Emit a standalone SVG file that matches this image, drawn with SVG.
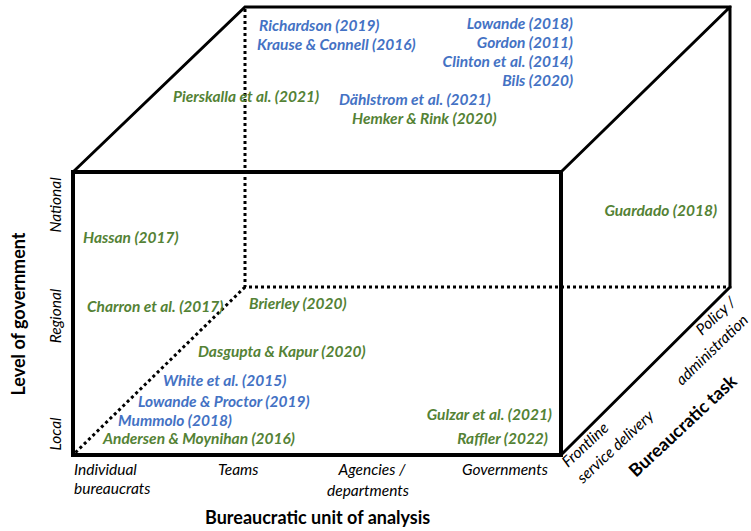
<svg xmlns="http://www.w3.org/2000/svg" width="751" height="531" viewBox="0 0 751 531">
<style>
.solid{stroke:#000;stroke-width:3;fill:none;stroke-linecap:square}
.front{stroke:#000;stroke-width:4;fill:none}
.dot{stroke:#000;stroke-width:3;fill:none;stroke-dasharray:3 3}
.ref{font-family:Lato,"Open Sans","Liberation Sans",sans-serif;font-size:15.5px;font-weight:bold;font-style:italic}
.b{fill:#4472C4}
.g{fill:#548235}
.ax{font-family:Lato,"Open Sans","Liberation Sans",sans-serif;font-size:15.5px;font-style:italic;fill:#000}
.title{font-family:Lato,"Open Sans","Liberation Sans",sans-serif;font-size:18px;font-weight:bold;fill:#000}
</style>
<rect width="751" height="531" fill="#fff"/>
<g id="connectors">
<path class="dot" d="M245,9 V287 H730 M245,287 L75,453"/>
<path class="solid" d="M73,172 L245,7 H730 V287 M561,172 L730,7 M561,455 L730,287"/>
<rect class="front" x="73" y="172" width="488" height="283"/>
</g>
<g id="refs-top">
<text class="ref b" x="259" y="31">Richardson (2019)</text>
<text class="ref b" x="257" y="50">Krause &amp; Connell (2016)</text>
<text class="ref b" x="573" y="29" text-anchor="end">Lowande (2018)</text>
<text class="ref b" x="573" y="48" text-anchor="end">Gordon (2011)</text>
<text class="ref b" x="573" y="67" text-anchor="end">Clinton et al. (2014)</text>
<text class="ref b" x="573" y="86" text-anchor="end">Bils (2020)</text>
<text class="ref g" x="173" y="102">Pierskalla et al. (2021)</text>
<text class="ref b" x="339" y="105">Dählstrom et al. (2021)</text>
<text class="ref g" x="352" y="124">Hemker &amp; Rink (2020)</text>
</g>
<g id="refs-front">
<text class="ref g" x="83" y="243">Hassan (2017)</text>
<text class="ref g" x="87" y="312">Charron et al. (2017)</text>
<text class="ref g" x="249" y="309">Brierley (2020)</text>
<text class="ref g" x="198" y="357">Dasgupta &amp; Kapur (2020)</text>
<text class="ref b" x="163" y="386">White et al. (2015)</text>
<text class="ref b" x="138" y="407">Lowande &amp; Proctor (2019)</text>
<text class="ref b" x="118" y="426">Mummolo (2018)</text>
<text class="ref g" x="103" y="444">Andersen &amp; Moynihan (2016)</text>
<text class="ref g" x="552" y="420" text-anchor="end">Gulzar et al. (2021)</text>
<text class="ref g" x="548" y="444" text-anchor="end">Raffler (2022)</text>
</g>
<g id="refs-side">
<text class="ref g" x="717" y="216" text-anchor="end">Guardado (2018)</text>
</g>
<g id="axis-level">
<text class="ax" transform="translate(61,205) rotate(-90)" text-anchor="middle">National</text>
<text class="ax" transform="translate(61,316) rotate(-90)" text-anchor="middle">Regional</text>
<text class="ax" transform="translate(61,434) rotate(-90)" text-anchor="middle">Local</text>
<text class="title" transform="translate(25,314) rotate(-90)" text-anchor="middle">Level of government</text>
</g>
<g id="axis-unit">
<text class="ax" x="74" y="475">Individual</text>
<text class="ax" x="74" y="494">bureaucrats</text>
<text class="ax" x="218" y="475">Teams</text>
<text class="ax" x="372" y="475" text-anchor="middle">Agencies /</text>
<text class="ax" x="368" y="496" text-anchor="middle">departments</text>
<text class="ax" x="462" y="475">Governments</text>
<text class="title" x="205" y="524">Bureaucratic unit of analysis</text>
</g>
<g id="axis-task">
<text class="ax" transform="translate(568,468) rotate(-43)">Frontline</text>
<text class="ax" transform="translate(583,484) rotate(-43)">service delivery</text>
<text class="ax" transform="translate(702,336) rotate(-43)">Policy /</text>
<text class="ax" transform="translate(682,386) rotate(-44)">administration</text>
<text class="title" transform="translate(636,478) rotate(-43)">Bureaucratic task</text>
</g>
</svg>
